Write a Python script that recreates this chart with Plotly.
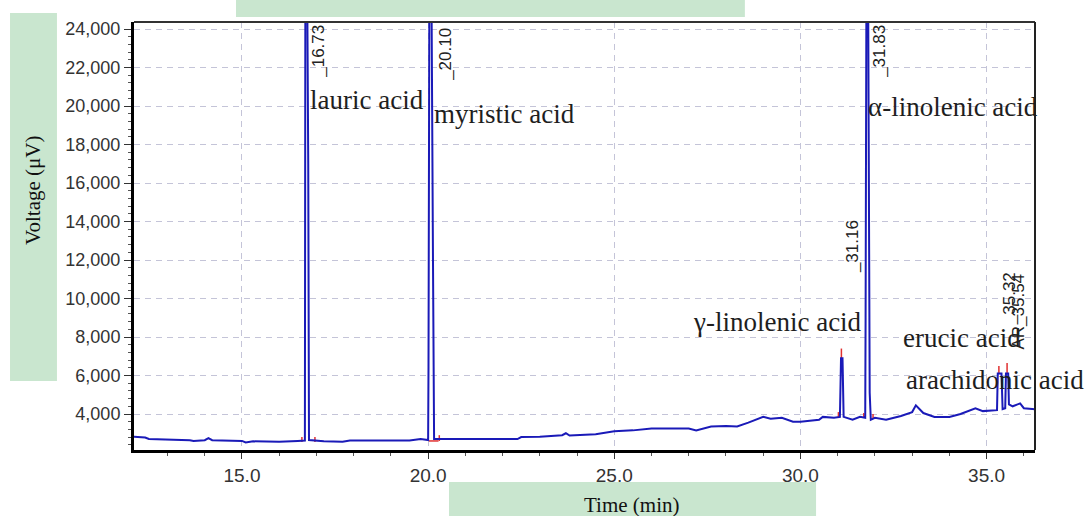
import plotly.graph_objects as go

# ---- data ----
time_min = [12.10, 12.40, 12.50, 13.20, 13.30, 13.60, 13.70, 14.00, 14.10, 14.20,
            15.00, 15.10, 15.30, 16.00, 16.50, 16.69, 16.71, 16.78, 16.80, 17.20,
            17.70, 17.90, 18.50, 19.50, 19.80, 20.00, 20.01, 20.05, 20.13, 20.16,
            20.50, 22.40, 22.50, 23.00, 23.60, 23.70, 23.80, 24.50, 25.00, 25.50,
            26.00, 27.00, 27.20, 27.60, 28.00, 28.30, 28.60, 29.00, 29.20, 29.50,
            29.80, 30.00, 30.50, 30.60, 30.90, 31.06, 31.09, 31.13, 31.16, 31.40,
            31.60, 31.74, 31.75, 31.79, 31.86, 31.89, 32.00, 32.30, 32.70, 33.00,
            33.10, 33.30, 33.60, 34.00, 34.30, 34.70, 34.90, 35.20, 35.28, 35.30,
            35.40, 35.43, 35.50, 35.52, 35.58, 35.60, 35.70, 35.90, 36.00, 36.30]
voltage_uv = [2820, 2780, 2700, 2680, 2640, 2640, 2600, 2640, 2750, 2640,
              2600, 2520, 2580, 2560, 2600, 2620, 40000, 17000, 2650, 2580,
              2560, 2620, 2620, 2620, 2700, 2650, 6450, 40000, 12100, 2700,
              2700, 2700, 2800, 2820, 2900, 3000, 2880, 2950, 3100, 3150,
              3250, 3250, 3150, 3350, 3380, 3350, 3550, 3850, 3750, 3800,
              3600, 3600, 3700, 3850, 3800, 3850, 6900, 6900, 3850, 3700,
              3850, 3800, 9000, 40000, 5100, 3700, 3800, 3700, 3900, 4100,
              4450, 4050, 3850, 3850, 4000, 4300, 4150, 4200, 4200, 6100,
              6100, 4250, 4300, 6100, 6100, 4500, 4400, 4550, 4300, 4250]

# integration markers (red)
marker_t = [16.61, 16.61, None, 16.96, 16.96, None, 20.02, 20.28, None, 20.30, 20.30, None,
            31.02, 31.02, None, 31.10, 31.10, None, 31.70, 31.70, None, 31.95, 31.95, None,
            35.33, 35.33, None, 35.55, 35.55]
marker_v = [2550, 2800, None, 2550, 2800, None, 2600, 2600, None, 2600, 2900, None,
            3800, 4100, None, 6900, 7400, None, 3800, 4050, None, 3750, 4000, None,
            6100, 6500, None, 6100, 6650]

peak_names = ["lauric acid", "myristic acid", "\u03b1-linolenic acid",
              "\u03b3-linolenic acid", "erucic acid", "arachidonic acid"]
peak_name_x = [16.77, 20.10, 31.76, 27.06, 32.70, 32.78]
peak_name_y = [20313, 19585, 19949, 8780, 7948, 5767]

rt_labels = ["_16.73", "_20.10", "_31.83", "_31.16", "_35.32", "AR_35.54"]
rt_x = [17.07, 20.46, 32.14, 31.40, 35.62, 35.86]
rt_y = [24300, 24150, 24300, 14180, 11480, 11380]

x_ticks = [15, 20, 25, 30, 35]
y_ticks = [4000, 6000, 8000, 10000, 12000, 14000, 16000, 18000, 20000, 22000, 24000]

GREEN = "#c9e6cf"
GRID = "#c4c4d8"

fig = go.Figure()
fig.add_trace(go.Scatter(x=marker_t, y=marker_v, mode="lines",
                         line=dict(color="#e03030", width=1.5), showlegend=False,
                         hoverinfo="skip"))
fig.add_trace(go.Scatter(x=time_min, y=voltage_uv, mode="lines",
                         line=dict(color="#1a1ab8", width=2), showlegend=False))

annotations = []
for n, x, y in zip(peak_names, peak_name_x, peak_name_y):
    annotations.append(dict(x=x, y=y, xref="x", yref="y", text=n, showarrow=False,
                            xanchor="left", yanchor="middle",
                            font=dict(family="Liberation Serif", size=27, color="#1e1e1e")))
for t, x, y in zip(rt_labels, rt_x, rt_y):
    annotations.append(dict(x=x, y=y, xref="x", yref="y", text=t, showarrow=False,
                            textangle=-90, xanchor="center", yanchor="top",
                            font=dict(family="Liberation Sans", size=17, color="#222")))
annotations.append(dict(x=0.5527, y=-0.1285, xref="paper", yref="paper", text="Time (min)",
                        showarrow=False, xanchor="center", yanchor="middle",
                        font=dict(family="Liberation Serif", size=21, color="#111")))
annotations.append(dict(x=-0.1121, y=0.6075, xref="paper", yref="paper", text="Voltage (\u03bcV)",
                        showarrow=False, xanchor="center", yanchor="middle", textangle=-90,
                        font=dict(family="Liberation Serif", size=21, color="#111")))

shapes = [
    # frame top and right
    dict(type="line", xref="paper", yref="paper", x0=0, x1=1, y0=1, y1=1,
         line=dict(color="#333", width=2)),
    dict(type="line", xref="paper", yref="paper", x0=1, x1=1, y0=0, y1=1,
         line=dict(color="#222", width=2)),
    # green overlay boxes
    dict(type="rect", xref="paper", yref="paper", x0=0.1132, x1=0.678, y0=1.0117, y1=1.06,
         fillcolor=GREEN, line=dict(width=0), layer="below"),
    dict(type="rect", xref="paper", yref="paper", x0=-0.1376, x1=-0.0855, y0=0.1612, y1=1.021,
         fillcolor=GREEN, line=dict(width=0), layer="below"),
    dict(type="rect", xref="paper", yref="paper", x0=0.3496, x1=0.757, y0=-0.16, y1=-0.0748,
         fillcolor=GREEN, line=dict(width=0), layer="below"),
]

fig.update_layout(
    width=1089, height=516,
    margin=dict(l=134, r=54, t=22, b=66),
    paper_bgcolor="white", plot_bgcolor="white",
    annotations=annotations, shapes=shapes,
    xaxis=dict(range=[12.1, 36.3], tickvals=x_ticks, tickformat=".1f",
               showgrid=True, gridcolor=GRID, griddash="6px,5px", gridwidth=1,
               showline=True, linecolor="black", linewidth=3,
               ticks="outside", ticklen=6, tickcolor="#333",
               minor=dict(dtick=1, ticks="outside", ticklen=3, tickcolor="#555", showgrid=False),
               tickfont=dict(family="Liberation Sans", size=19, color="#333"),
               zeroline=False),
    yaxis=dict(range=[2130, 24364], tickvals=y_ticks, tickformat=",d",
               showgrid=True, gridcolor=GRID, griddash="6px,5px", gridwidth=1,
               showline=True, linecolor="black", linewidth=3,
               ticks="outside", ticklen=7, tickcolor="#333",
               minor=dict(dtick=400, ticks="outside", ticklen=3, tickcolor="#555", showgrid=False),
               tickfont=dict(family="Liberation Sans", size=18, color="#333"),
               zeroline=False),
)

fig.write_html("out.html")
